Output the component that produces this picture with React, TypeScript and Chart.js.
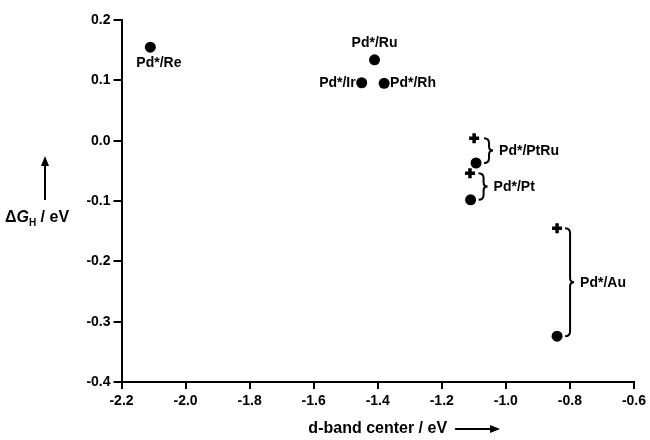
import React, { useEffect, useRef } from "react";
import { Chart, registerables } from "chart.js";

Chart.register(...registerables);

// Circle markers (ΔG_H of Pd* overlayers)
const systems = ["Pd*/Re", "Pd*/Ru", "Pd*/Ir", "Pd*/Rh", "Pd*/PtRu", "Pd*/Pt", "Pd*/Au"];
const dBandCenter = [-2.11, -1.41, -1.45, -1.38, -1.093, -1.11, -0.84];
const deltaGH = [0.155, 0.134, 0.096, 0.095, -0.037, -0.098, -0.324];

// Cross markers (paired with the bracketed systems)
const crossSystems = ["Pd*/PtRu", "Pd*/Pt", "Pd*/Au"];
const crossDBand = [-1.099, -1.112, -0.84];
const crossDeltaGH = [0.004, -0.054, -0.145];

// Axis ticks
const xMin = -2.2, xMax = -0.6, xStep = 0.2;
const yMin = -0.4, yMax = 0.2, yStep = 0.1;

const FONT = "'Liberation Sans', Arial, sans-serif";

const fmt = (v: number) => {
  const n = Math.abs(v) < 1e-9 ? 0 : v;
  return n.toFixed(1);
};

const annotate = {
  id: "annotate",
  afterDraw(chart: any) {
    const ctx = chart.ctx;
    const xs = chart.scales.x;
    const ys = chart.scales.y;
    const area = chart.chartArea;
    ctx.save();
    ctx.fillStyle = "#000";
    ctx.strokeStyle = "#000";
    ctx.font = `bold 14px ${FONT}`;
    ctx.textBaseline = "middle";

    const px = (i: number) => xs.getPixelForValue(dBandCenter[i]);
    const py = (i: number) => ys.getPixelForValue(deltaGH[i]);

    // simple labels
    systems.forEach((name, i) => {
      if (crossSystems.includes(name)) return;
      const x = px(i), y = py(i);
      if (name === "Pd*/Re") {
        ctx.textAlign = "left";
        ctx.fillText(name, x - 14, y + 16);
      } else if (name === "Pd*/Ru") {
        ctx.textAlign = "center";
        ctx.fillText(name, x, y - 17);
      } else if (name === "Pd*/Ir") {
        ctx.textAlign = "right";
        ctx.fillText(name, x - 6, y);
      } else {
        ctx.textAlign = "left";
        ctx.fillText(name, x + 6, y);
      }
    });

    // braces
    crossSystems.forEach((name, j) => {
      const i = systems.indexOf(name);
      const cx = xs.getPixelForValue(crossDBand[j]);
      const cy = ys.getPixelForValue(crossDeltaGH[j]);
      const x0 = Math.max(cx, px(i));
      const top = Math.min(cy, py(i));
      const bot = Math.max(cy, py(i));
      const mid = (top + bot) / 2;
      const xb = x0 + 13;
      ctx.lineWidth = 2;
      ctx.beginPath();
      ctx.moveTo(xb - 5, top);
      ctx.quadraticCurveTo(xb, top, xb, top + 5);
      ctx.lineTo(xb, mid - 4);
      ctx.quadraticCurveTo(xb, mid, xb + 4, mid);
      ctx.quadraticCurveTo(xb, mid, xb, mid + 4);
      ctx.lineTo(xb, bot - 5);
      ctx.quadraticCurveTo(xb, bot, xb - 5, bot);
      ctx.stroke();
      ctx.textAlign = "left";
      ctx.fillText(name, xb + 10, mid + 1);
    });

    // y-axis title with upward arrow
    let tx = 5;
    const ty = 218;
    ctx.textAlign = "left";
    ctx.font = `bold 16px ${FONT}`;
    ctx.fillText("\u0394", tx, ty);
    tx += ctx.measureText("\u0394").width;
    ctx.font = `italic bold 16px ${FONT}`;
    ctx.fillText("G", tx, ty);
    tx += ctx.measureText("G").width;
    ctx.font = `bold 10px ${FONT}`;
    ctx.fillText("H", tx, ty + 5);
    tx += ctx.measureText("H").width;
    ctx.font = `bold 16px ${FONT}`;
    ctx.fillText(" / eV", tx, ty);

    ctx.lineWidth = 2;
    ctx.beginPath();
    ctx.moveTo(45, 200);
    ctx.lineTo(45, 164);
    ctx.stroke();
    ctx.beginPath();
    ctx.moveTo(45, 156);
    ctx.lineTo(41, 166);
    ctx.lineTo(49, 166);
    ctx.closePath();
    ctx.fill();

    // x-axis title with right arrow
    const title = "d-band center / eV";
    ctx.font = `bold 16px ${FONT}`;
    const w = ctx.measureText(title).width;
    const cxm = (area.left + area.right) / 2;
    const yT = 429;
    ctx.textAlign = "left";
    ctx.fillText(title, cxm - w / 2, yT);
    const ax0 = cxm + w / 2 + 8;
    ctx.beginPath();
    ctx.moveTo(ax0, yT);
    ctx.lineTo(ax0 + 37, yT);
    ctx.stroke();
    ctx.beginPath();
    ctx.moveTo(ax0 + 45, yT);
    ctx.lineTo(ax0 + 35, yT - 4);
    ctx.lineTo(ax0 + 35, yT + 4);
    ctx.closePath();
    ctx.fill();

    ctx.restore();
  },
};

export default function App() {
  const ref = useRef<HTMLCanvasElement | null>(null);
  useEffect(() => {
    if (!ref.current) return;
    const chart = new Chart(ref.current, {
      type: "scatter",
      data: {
        datasets: [
          {
            label: "circles",
            data: dBandCenter.map((x, i) => ({ x, y: deltaGH[i] })),
            pointStyle: "circle",
            pointRadius: 5.5,
            backgroundColor: "#000",
            borderColor: "#000",
            borderWidth: 0,
          },
          {
            label: "crosses",
            data: crossDBand.map((x, i) => ({ x, y: crossDeltaGH[i] })),
            pointStyle: "cross",
            pointRadius: 5,
            backgroundColor: "#000",
            borderColor: "#000",
            borderWidth: 3.5,
          },
        ],
      },
      options: {
        animation: false,
        responsive: false,
        layout: { padding: { top: 20, right: 14.5, left: 0, bottom: 0 } },
        plugins: { legend: { display: false }, tooltip: { enabled: false } },
        scales: {
          x: {
            type: "linear",
            min: xMin,
            max: xMax,
            afterFit: (s: any) => { s.height = 58; },
            ticks: {
              stepSize: xStep,
              color: "#000",
              font: { family: FONT, size: 14, weight: "bold" },
              padding: 4,
              maxRotation: 0,
              callback: (v: any) => fmt(Number(v)),
            },
            grid: { drawOnChartArea: false, drawTicks: true, tickLength: 7, color: "#000", lineWidth: 2 },
            border: { display: true, color: "#000", width: 2 },
          },
          y: {
            type: "linear",
            min: yMin,
            max: yMax,
            afterFit: (s: any) => { s.width = 121.5; },
            ticks: {
              stepSize: yStep,
              color: "#000",
              font: { family: FONT, size: 14, weight: "bold" },
              padding: 3,
              callback: (v: any) => fmt(Number(v)),
            },
            grid: { drawOnChartArea: false, drawTicks: true, tickLength: 8, color: "#000", lineWidth: 2 },
            border: { display: true, color: "#000", width: 2 },
          },
        },
      },
      plugins: [annotate],
    } as any);
    return () => chart.destroy();
  }, []);
  return (
    <div style={{ position: "fixed", left: 0, top: 0, width: 650, height: 440, background: "#fff" }}>
      <canvas ref={ref} width={650} height={440} style={{ width: 650, height: 440 }} />
    </div>
  );
}
